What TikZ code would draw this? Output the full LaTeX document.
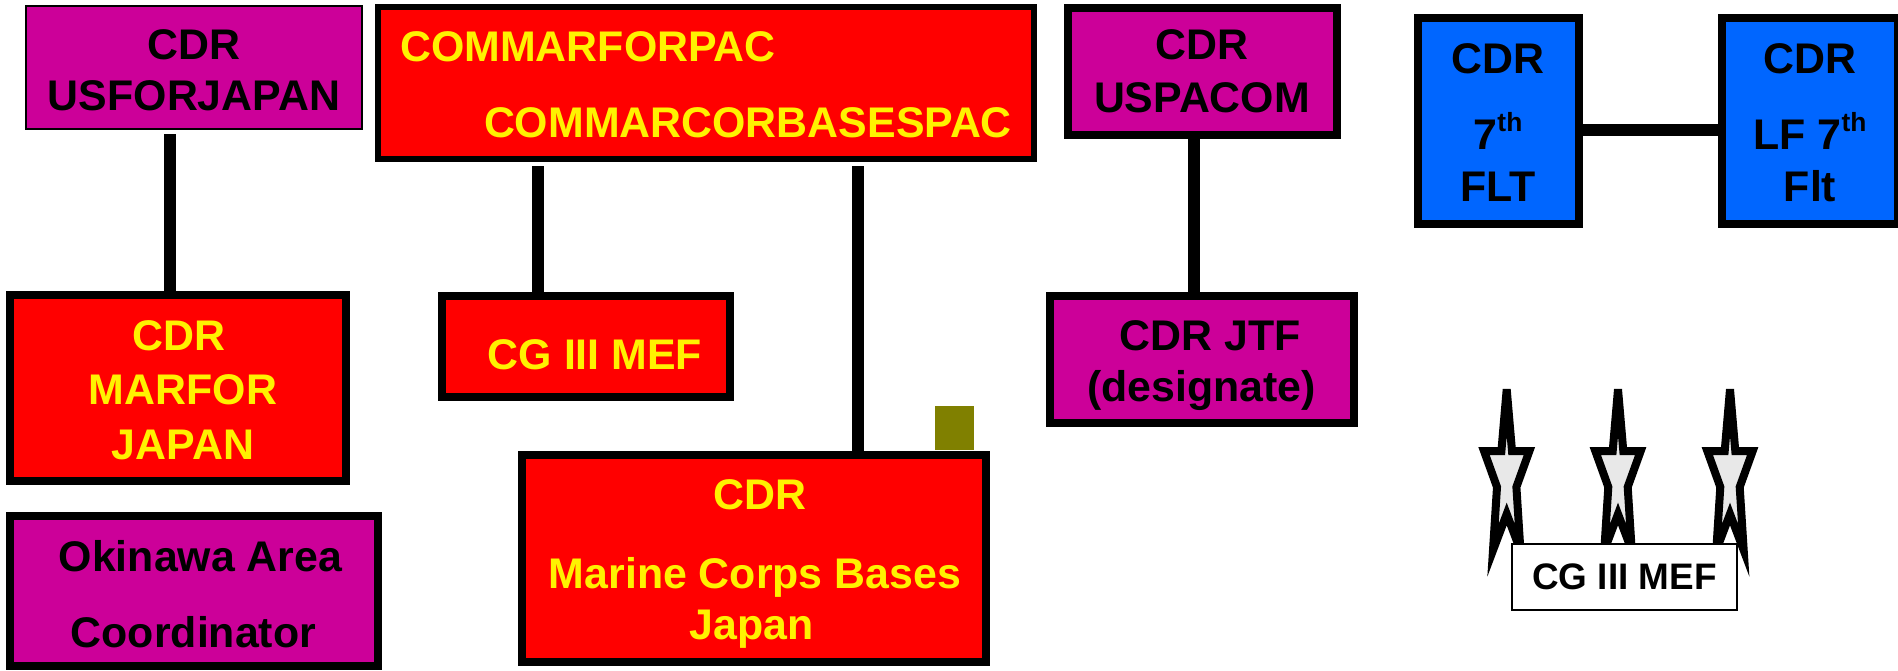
\documentclass[tikz,border=0pt]{standalone}
\usepackage{fontspec}
\setmainfont{Liberation Sans}
\definecolor{cmdmag}{HTML}{CC0099}
\definecolor{cmdblue}{HTML}{0066FF}
\definecolor{cmdolive}{HTML}{808000}
\newcommand{\thmark}{\smash{\raisebox{0.42em}{\fontsize{15}{15}\selectfont th}}}
\tikzset{
  box/.style={draw=black,line width=0.16cm,inner sep=0pt},
  thinbox/.style={box,line width=0.04cm},
  redbox/.style={box,fill=red},
  magbox/.style={box,fill=cmdmag},
  bluebox/.style={box,fill=cmdblue},
  lab/.style={inner sep=0pt,align=center,font=\fontsize{24.4}{29}\selectfont\bfseries},
  yellab/.style={lab,text=yellow},
  link/.style={line width=0.24cm},
  starline/.style={draw=black,fill=black!9,line width=0.16cm}
}
\begin{document}
\begin{tikzpicture}[x=0.02cm,y=-0.02cm]
\useasboundingbox (0,0) rectangle (1898,670);
% top row
\node[thinbox,fill=cmdmag,minimum width=6.72cm,minimum height=2.46cm] (usfor) at (194,67.5) {};
\node[redbox,line width=0.12cm,minimum width=13.12cm,minimum height=3.06cm] (commar) at (706,83) {};
\node[magbox,minimum width=5.4cm,minimum height=2.56cm] (uspacom) at (1202.5,71.5) {};
\node[bluebox,minimum width=3.21cm,minimum height=4.13cm] (flt) at (1498.3,120.8) {};
\node[bluebox,minimum width=3.52cm,minimum height=4.13cm] (lf) at (1810,120.8) {};
% second row
\node[redbox,minimum width=6.72cm,minimum height=3.72cm] (marfor) at (178,388) {};
\node[redbox,minimum width=5.76cm,minimum height=2.04cm] (cgmef) at (586,346.5) {};
\node[magbox,minimum width=6.08cm,minimum height=2.56cm] (jtf) at (1202,359.5) {};
\node[redbox,minimum width=9.28cm,minimum height=4.16cm] (bases) at (754,558.5) {};
\node[magbox,minimum width=7.36cm,minimum height=3.02cm] (okinawa) at (194,591) {};
\node[draw=none,fill=cmdolive,minimum width=0.78cm,minimum height=0.88cm,inner sep=0pt] (flag) at (954.5,428) {};
% labels
\node[lab] (usfortxt) at (194,70.5) {CDR\\[0.2pt]USFORJAPAN};
\node[yellab] (commartxta) at (588,47) {COMMARFORPAC};
\node[yellab] (commartxtb) at (748,123) {COMMARCORBASESPAC};
\node[lab] (uspacomtxt) at (1202,71) {CDR\\[1.4pt]USPACOM};
\node[lab] (flttxt) at (1498,122.5) {CDR\\[14pt]7\thmark\\[0.6pt]FLT};
\node[lab] (lftxt) at (1810,122.5) {CDR\\[14pt]LF 7\thmark\\[0.6pt]Flt};
\node[yellab] (marfortxt) at (183,390) {\hspace{-5pt}CDR\\[2pt]MARFOR\\[2pt]JAPAN};
\node[yellab] (cgmeftxt) at (595,355) {CG III MEF};
\node[lab] (jtftxt) at (1205,366) {\hspace{6pt}CDR JTF\\[0pt]\hspace{-4pt}(designate)};
\node[yellab] (basestxt) at (755,564) {\hspace{6pt}CDR\\[16pt]Marine Corps Bases\\[0pt]\hspace{-4pt}Japan};
\node[lab] (okinawatxt) at (197,594) {\hspace{4pt}Okinawa Area\\[14pt]\hspace{-4pt}Coordinator};
% connectors
\coordinate (usforend) at (170,134);
\coordinate (commara) at (538,166);
\coordinate (commarb) at (858,166);
\coordinate (pacomx) at (1194,0);
\draw[link] (usforend) -- (usforend |- marfor.north);
\draw[link] (commara) -- (commara |- cgmef.north);
\draw[link] (commarb) -- (commarb |- bases.north);
\draw[link] (uspacom.south -| pacomx) -- (jtf.north -| pacomx);
\coordinate (fltmid) at (1500,130);
\draw[link] (fltmid -| flt.east) -- (fltmid -| lf.west);
% stars
\foreach \sx in {1506.7,1618,1730}{
  \draw[starline,shift={(\sx,0)}] (0,389.3) -- (5.3,451) -- (22.7,451) -- (9.7,487) -- (13.7,550.3) -- (0,514) -- (-13.7,550.3) -- (-9.7,487) -- (-22.7,451) -- (-5.3,451) -- cycle;
}
\node[thinbox,fill=white,minimum width=4.52cm,minimum height=1.32cm,font=\fontsize{21}{24}\selectfont\bfseries] (mef) at (1624.5,576.5) {CG III MEF};
\end{tikzpicture}
\end{document}
